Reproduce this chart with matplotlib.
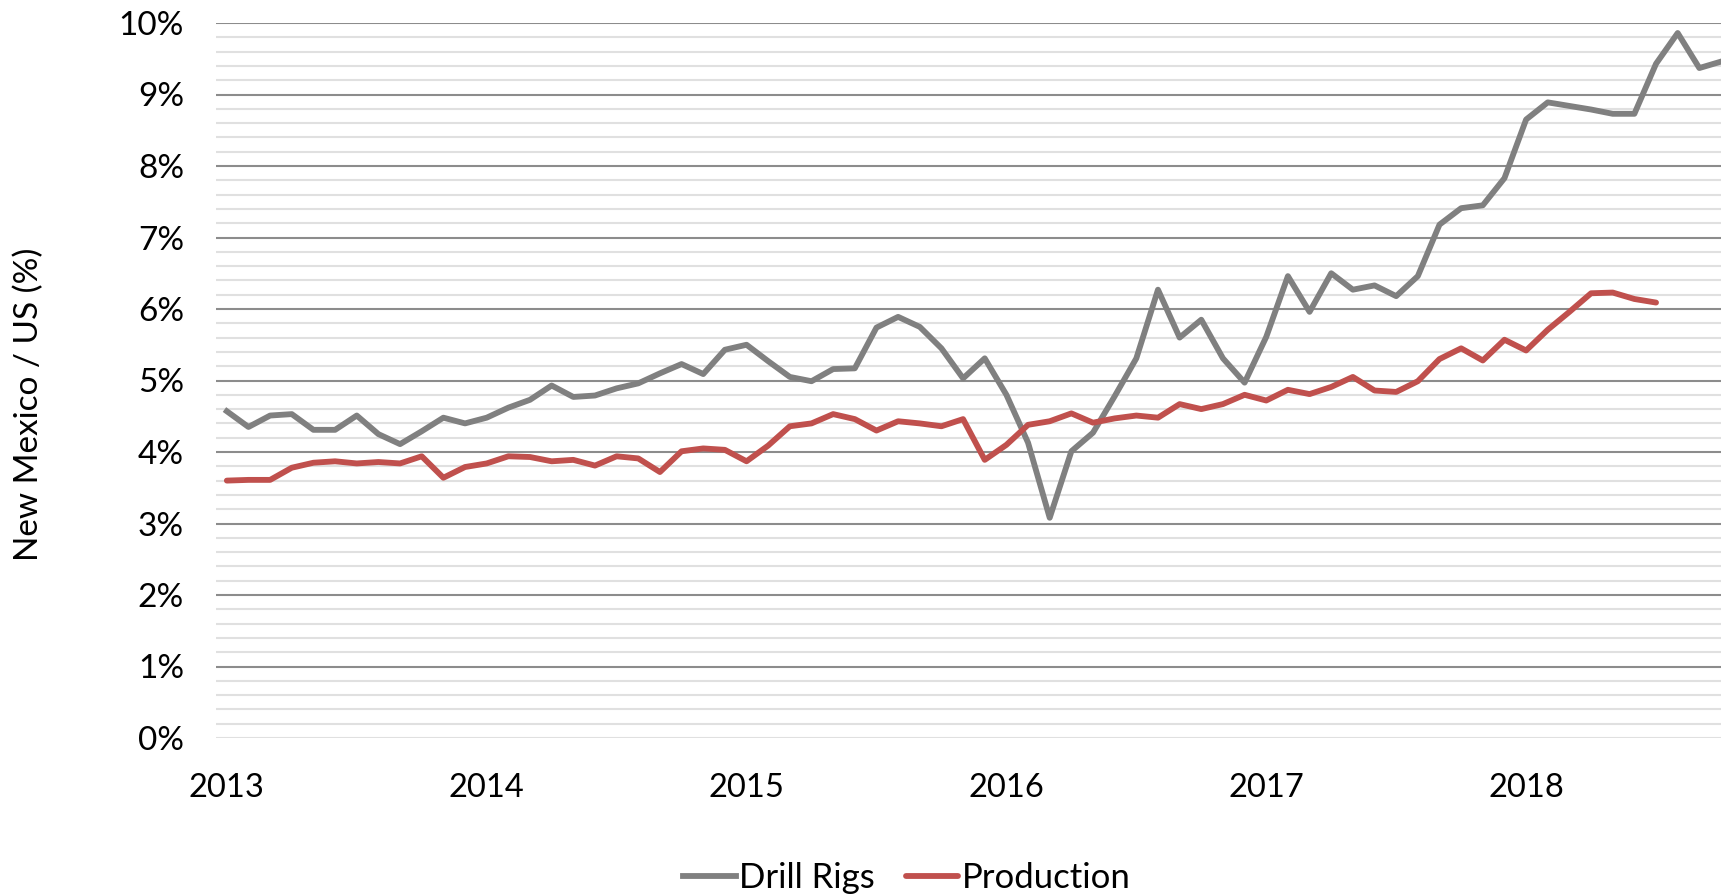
import matplotlib
matplotlib.use("Agg")
import matplotlib.pyplot as plt
import numpy as np

# monthly values, Jan 2013 onwards (share of US, %)
drill_rigs = [4.57, 4.35, 4.51, 4.53, 4.31, 4.31, 4.51, 4.25, 4.11, 4.29, 4.48, 4.40,
              4.48, 4.62, 4.73, 4.93, 4.77, 4.79, 4.89, 4.96, 5.10, 5.23, 5.09, 5.43,
              5.50, 5.27, 5.05, 4.99, 5.16, 5.17, 5.74, 5.89, 5.75, 5.45, 5.03, 5.31,
              4.80, 4.13, 3.08, 4.01, 4.27, 4.78, 5.31, 6.27, 5.60, 5.85, 5.31, 4.97,
              5.61, 6.46, 5.96, 6.50, 6.27, 6.33, 6.18, 6.46, 7.18, 7.41, 7.45, 7.83,
              8.65, 8.89, 8.84, 8.79, 8.73, 8.73, 9.43, 9.86, 9.37, 9.46]
production = [3.60, 3.61, 3.61, 3.78, 3.85, 3.87, 3.84, 3.86, 3.84, 3.94, 3.64, 3.79,
              3.84, 3.94, 3.93, 3.87, 3.89, 3.81, 3.94, 3.91, 3.72, 4.01, 4.05, 4.03,
              3.87, 4.09, 4.36, 4.40, 4.53, 4.46, 4.30, 4.43, 4.40, 4.36, 4.46, 3.89,
              4.10, 4.38, 4.43, 4.54, 4.41, 4.47, 4.51, 4.48, 4.67, 4.60, 4.67, 4.80,
              4.72, 4.87, 4.81, 4.91, 5.05, 4.86, 4.84, 4.99, 5.30, 5.45, 5.28, 5.57,
              5.42, 5.71, 5.96, 6.22, 6.23, 6.14, 6.09]
years = ["2013", "2014", "2015", "2016", "2017", "2018"]

font = "Lato"
lw = 4.2

fig = plt.figure(figsize=(17.21, 8.94), dpi=100)
ax = fig.add_axes([216 / 1721, 1 - 738 / 894, 1 - 216 / 1721, (738 - 23) / 894])

# gridlines: light every 0.2%, dark every 1% (0% line stays light)
for v in np.arange(0, 10.01, 0.2):
    major = abs(v - round(v)) < 1e-6 and round(v) > 0
    ax.axhline(v, color="#8c8c8c" if major else "#e0e0e0", lw=1.5, zorder=1)

ax.plot(np.arange(len(drill_rigs)), drill_rigs, color="#808080", lw=lw,
        label="Drill Rigs", zorder=3, solid_joinstyle="round")
ax.plot(np.arange(len(production)), production, color="#c0504d", lw=lw,
        label="Production", zorder=3, solid_joinstyle="round", solid_capstyle="round")

ax.set_xlim(-0.5, 69)
ax.set_ylim(0, 10)
ax.set_xticks(np.arange(len(years)) * 12)
ax.set_xticklabels(years, fontsize=23.5, family=font)
ax.set_yticks(range(0, 11))
ax.set_yticklabels([f"{v}%" for v in range(0, 11)], fontsize=24, family=font)
ax.tick_params(axis="both", length=0)
ax.tick_params(axis="x", pad=25)
ax.tick_params(axis="y", pad=23)
for s in ax.spines.values():
    s.set_visible(False)

fig.text(29 / 1721, 1 - 404 / 894, "New Mexico / US (%)", rotation=90,
         ha="center", va="center", fontsize=24, family=font)

leg = fig.legend(loc="center", bbox_to_anchor=(0.527, 0.018), ncol=2, frameon=False,
                 prop={"family": font, "size": 25}, handlelength=1.5,
                 handletextpad=0.1, columnspacing=0.9)
for line in leg.get_lines():
    line.set_linewidth(lw)

fig.savefig("out.png", dpi=100)
